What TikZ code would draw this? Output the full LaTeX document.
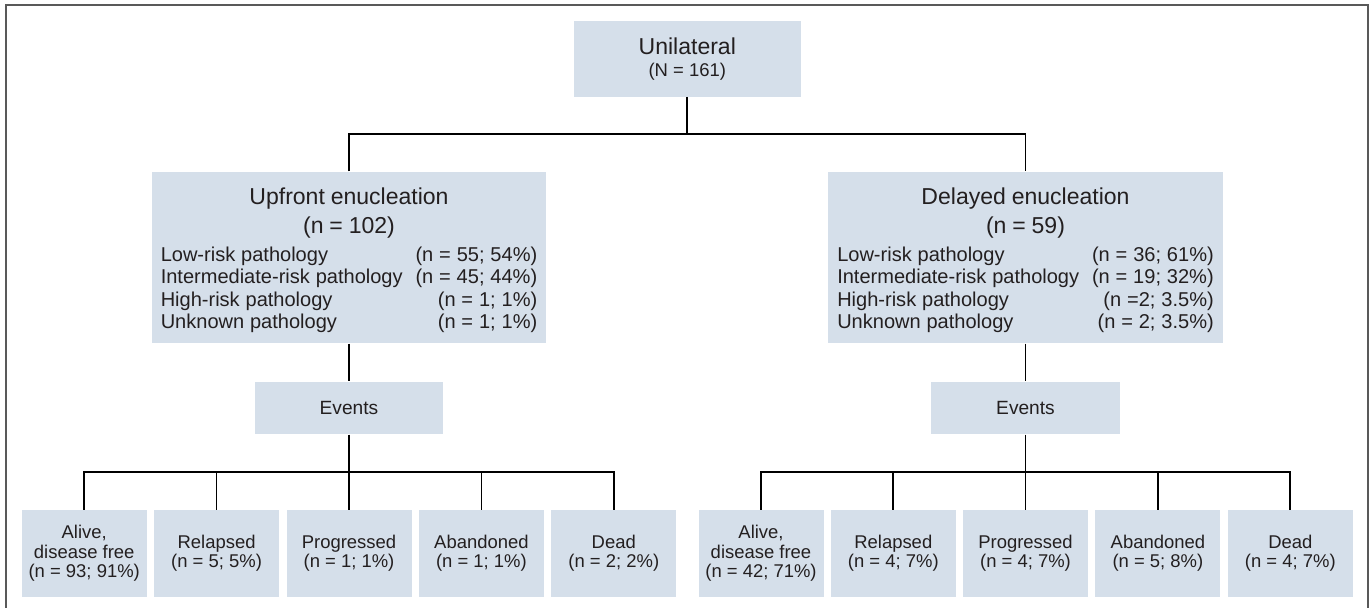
\documentclass[tikz,border=0pt]{standalone}
\usepackage{fontspec}
\setmainfont{Liberation Sans}
\usepackage{tikz}
\usetikzlibrary{positioning, calc}

\definecolor{boxfill}{RGB}{213,223,234}
\definecolor{inkdark}{RGB}{35,31,32}

\newcommand{\armhead}[2]{{\centering\fontsize{13.1}{16.1}\selectfont #1\\#2\par}\vspace{3.3pt}}
\newcommand{\armrow}[2]{\noindent\makebox[\linewidth]{#1\hfill#2}\par}

\begin{document}
\begin{tikzpicture}[
    cohort/.style={rectangle, fill=boxfill, text=inkdark, inner sep=0pt,
                   minimum width=4.53cm, minimum height=1.51cm, align=center,
                   font=\fontsize{13.1}{14.5}\selectfont},
    arm/.style={rectangle, fill=boxfill, text=inkdark, inner xsep=0.18cm, inner ysep=0pt,
                text width=7.53cm, minimum height=3.43cm},
    events/.style={rectangle, fill=boxfill, text=inkdark, inner sep=0pt,
                   minimum width=3.77cm, minimum height=1.05cm,
                   font=\fontsize{10.9}{13}\selectfont},
    outcome/.style={rectangle, fill=boxfill, text=inkdark, inner sep=0pt,
                    minimum width=2.5cm, minimum height=1.73cm, align=center,
                    font=\fontsize{10.5}{11}\selectfont},
    link/.style={line width=1pt, black}
]
\useasboundingbox (0,0) rectangle (27.44,-12.16);
\draw[black!65, line width=0.6pt] (0.12,-12.16) -- (0.12,-0.1) -- (27.36,-0.1) -- (27.36,-12.16);

\node[cohort] (uni) at (13.746,-1.176) {Unilateral\\[-2pt]{\fontsize{10.5}{12}\selectfont (N = 161)}};

\node[arm] (upfront) at (6.98,-5.15) {%
    \armhead{Upfront enucleation}{(n = 102)}
    {\fontsize{11.4}{12.8}\selectfont
    \armrow{Low-risk pathology}{(n = 55; 54\%)}
    \armrow{Intermediate-risk pathology}{(n = 45; 44\%)}
    \armrow{High-risk pathology}{(n = 1; 1\%)}
    \armrow{Unknown pathology}{(n = 1; 1\%)}}\vspace{-3.4pt}};
\node[arm] (delayed) at (20.51,-5.15) {%
    \armhead{Delayed enucleation}{(n = 59)}
    {\fontsize{11.4}{12.8}\selectfont
    \armrow{Low-risk pathology}{(n = 36; 61\%)}
    \armrow{Intermediate-risk pathology}{(n = 19; 32\%)}
    \armrow{High-risk pathology}{(n =2; 3.5\%)}
    \armrow{Unknown pathology}{(n = 2; 3.5\%)}}\vspace{-3.4pt}};

\node[events] (upev) at (6.98,-8.16) {Events};
\node[events] (dlev) at (20.51,-8.16) {Events};

% outcomes, upfront arm
\node[outcome] (upalive) at (1.684,-11.067) {Alive,\\disease free\\(n = 93; 91\%)};
\node[outcome] (uprel) at (4.332,-11.067) {Relapsed\\(n = 5; 5\%)};
\node[outcome] (upprog) at (6.98,-11.067) {Progressed\\(n = 1; 1\%)};
\node[outcome] (upaban) at (9.628,-11.067) {Abandoned\\(n = 1; 1\%)};
\node[outcome] (updead) at (12.276,-11.067) {Dead\\(n = 2; 2\%)};
% outcomes, delayed arm
\node[outcome] (dlalive) at (15.22,-11.067) {Alive,\\disease free\\(n = 42; 71\%)};
\node[outcome] (dlrel) at (17.866,-11.067) {Relapsed\\(n = 4; 7\%)};
\node[outcome] (dlprog) at (20.51,-11.067) {Progressed\\(n = 4; 7\%)};
\node[outcome] (dlaban) at (23.158,-11.067) {Abandoned\\(n = 5; 8\%)};
\node[outcome] (dldead) at (25.806,-11.067) {Dead\\(n = 4; 7\%)};

\coordinate (split) at (13.746,-2.68);
\coordinate (upsplit) at (6.98,-9.446);
\coordinate (dlsplit) at (20.51,-9.446);

\draw[link] (uni.south) -- (split);
\draw[link] (upfront.north) |- (split) -| (delayed.north);
\draw[link] (upfront.south) -- (upev.north);
\draw[link] (delayed.south) -- (dlev.north);
\draw[link] (upev.south) -- (upsplit);
\draw[link] (dlev.south) -- (dlsplit);
\draw[link] (upalive.north) |- (upsplit) -| (updead.north);
\draw[link] (dlalive.north) |- (dlsplit) -| (dldead.north);
\foreach \x in {uprel,upprog,upaban} {
    \draw[link] (upsplit) -| (\x.north);
}
\foreach \x in {dlrel,dlprog,dlaban} {
    \draw[link] (dlsplit) -| (\x.north);
}
\end{tikzpicture}
\end{document}
